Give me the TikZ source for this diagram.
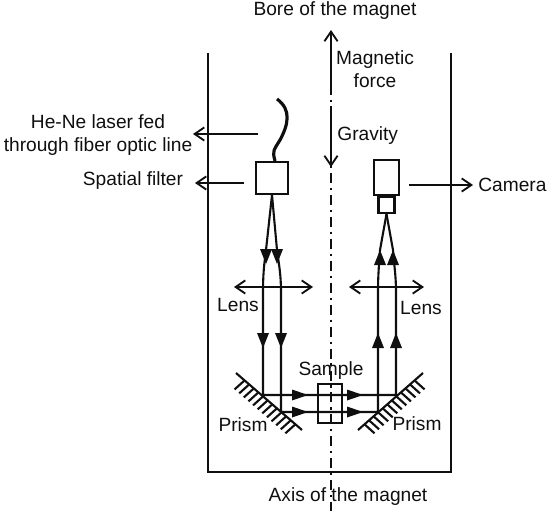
\documentclass[tikz,border=0pt]{standalone}
\usepackage{fontspec}
\setmainfont{Liberation Sans}
\usepackage{xcolor}
\usetikzlibrary{arrows.meta, positioning, calc}
\definecolor{themegray}{RGB}{15, 15, 15}
\tikzset{
    barb/.tip={Straight Barb[length=5.5pt, width=7.5pt, line width=1.05pt]},
    wall/.style={line width=1.3pt, themegray},
    beam/.style={line width=1.2pt, themegray},
    pointer/.style={line width=1.05pt, themegray, -barb},
    bothway/.style={line width=1.05pt, themegray, barb-barb},
    part/.style={draw=themegray, line width=1.15pt, inner sep=0pt, minimum width=#1},
    label/.style={font=\fontsize{10.9pt}{13pt}\selectfont, text=themegray, inner sep=0pt, align=center},
}
\begin{document}
\begin{tikzpicture}[x=0.02cm, y=-0.02cm]
    \useasboundingbox (0,0) rectangle (550,513);
    % vessel and axis
    \coordinate (wallLT) at (208,53);
    \coordinate (wallLB) at (208,472);
    \coordinate (wallRB) at (451,472);
    \coordinate (wallRT) at (451,53);
    \coordinate (axisT) at (331,85);
    \coordinate (axisB) at (331,511);
    \draw[wall] (wallLT) -- (wallLB) -- (wallRB) -- (wallRT);
    \draw[wall, line width=1.2pt, dash pattern=on 5.7pt off 2.8pt on 1.2pt off 2.8pt] (axisT) -- (axisB);
    % forces
    \coordinate (forceT) at (331,30);
    \coordinate (forceB) at (331,95);
    \coordinate (gravT) at (331,106);
    \coordinate (gravB) at (331,167);
    \draw[pointer] (forceB) -- (forceT);
    \draw[pointer] (gravT) -- (gravB);
    % laser side
    \node[part=32*0.02cm, minimum height=32*0.02cm] (filter) at (272,178) {};
    \draw[line width=1.8pt, themegray] (filter.north) ++(3,0) .. controls (272,150) and (274,150) .. (280,140) .. controls (288,125) and (292,110) .. (277,99);
    \coordinate (fibT) at (258,134);
    \coordinate (fibE) at (193,134);
    \coordinate (filtT) at (244,183);
    \coordinate (filtE) at (195,183);
    \draw[pointer] (fibT) -- (fibE);
    \draw[pointer] (filtT) -- (filtE);
    % camera side
    \node[part=25*0.02cm, minimum height=35*0.02cm] (camera) at (386.5,177.5) {};
    \node[part=16*0.02cm, minimum height=16*0.02cm, below=0pt of camera] (objective) {};
    \coordinate (camT) at (409,185);
    \coordinate (camE) at (473,185);
    \draw[pointer] (camT) -- (camE);
    % lenses
    \coordinate (lensLa) at (234,287);
    \coordinate (lensLb) at (313,287);
    \coordinate (lensRa) at (349,287);
    \coordinate (lensRb) at (424,287);
    \draw[bothway] (lensLa) -- (lensLb);
    \draw[bothway] (lensRa) -- (lensRb);
    % beams
    \coordinate (hitLa) at (263,395);
    \coordinate (hitLb) at (281,412);
    \coordinate (hitRa) at (396,395);
    \coordinate (hitRb) at (378,412);
    \draw[beam] (filter.south) -- (266,250) .. controls (264,265) and (263,275) .. (263,292) -- (hitLa) -- (hitRa) -- (396,292) .. controls (396,275) and (394,265) .. (393,250) -- (objective.south);
    \draw[beam] (filter.south) -- (277,250) .. controls (279,265) and (281,275) .. (281,292) -- (hitLb) -- (hitRb) -- (378,292) .. controls (378,275) and (379,265) .. (380,250) -- (objective.south);
    % arrow heads
    \foreach \a/\b in {266/264, 277/264, 263/348, 281/348}
        \fill[themegray] (\a,\b) -- ++(-6,-15) -- ++(12,0) -- cycle;
    \foreach \a/\b in {380/250, 393/250, 378/333, 396/333}
        \fill[themegray] (\a,\b) -- ++(-6,15) -- ++(12,0) -- cycle;
    \foreach \a/\b in {308/395, 308/412, 363/395, 363/412}
        \fill[themegray] (\a,\b) -- ++(-16,-5.5) -- ++(0,11) -- cycle;
    % sample
    \node[part=24*0.02cm, minimum height=39*0.02cm] (sample) at (330,403.5) {};
    % prisms
    \coordinate (prismLa) at (236,373);
    \coordinate (prismLb) at (302,430);
    \coordinate (prismRa) at (423,373);
    \coordinate (prismRb) at (358,430);
    \draw[beam] (prismLa) -- (prismLb);
    \draw[beam] (prismRa) -- (prismRb);
    \foreach \t in {0.13,0.2,...,0.9} {
        \draw[beam] ($(prismLa)!\t!(prismLb)$) -- ++(-10,9);
        \draw[beam] ($(prismRa)!\t!(prismRb)$) -- ++(10,9);
    }
    % labels
    \node[label] (bore) at (335,11) {Bore of the magnet};
    \node[label] (magforce) at (375,69) {Magnetic\\force};
    \node[label, anchor=west] (gravity) at (337,136) {Gravity};
    \node[label] (laser) at (98,135) {He-Ne laser fed\\through fiber optic line};
    \node[label] (spatial) at (133,181) {Spatial filter};
    \node[label, anchor=west] (camlabel) at (478,185) {Camera};
    \node[label] (lensL) at (238,305) {Lens};
    \node[label] (lensR) at (421,308) {Lens};
    \node[label] (samplelabel) at (331,371) {Sample};
    \node[label] (prismL) at (243,425) {Prism};
    \node[label] (prismR) at (417,424) {Prism};
    \node[label] (axis) at (348,497) {Axis of the magnet};
\end{tikzpicture}
\end{document}
